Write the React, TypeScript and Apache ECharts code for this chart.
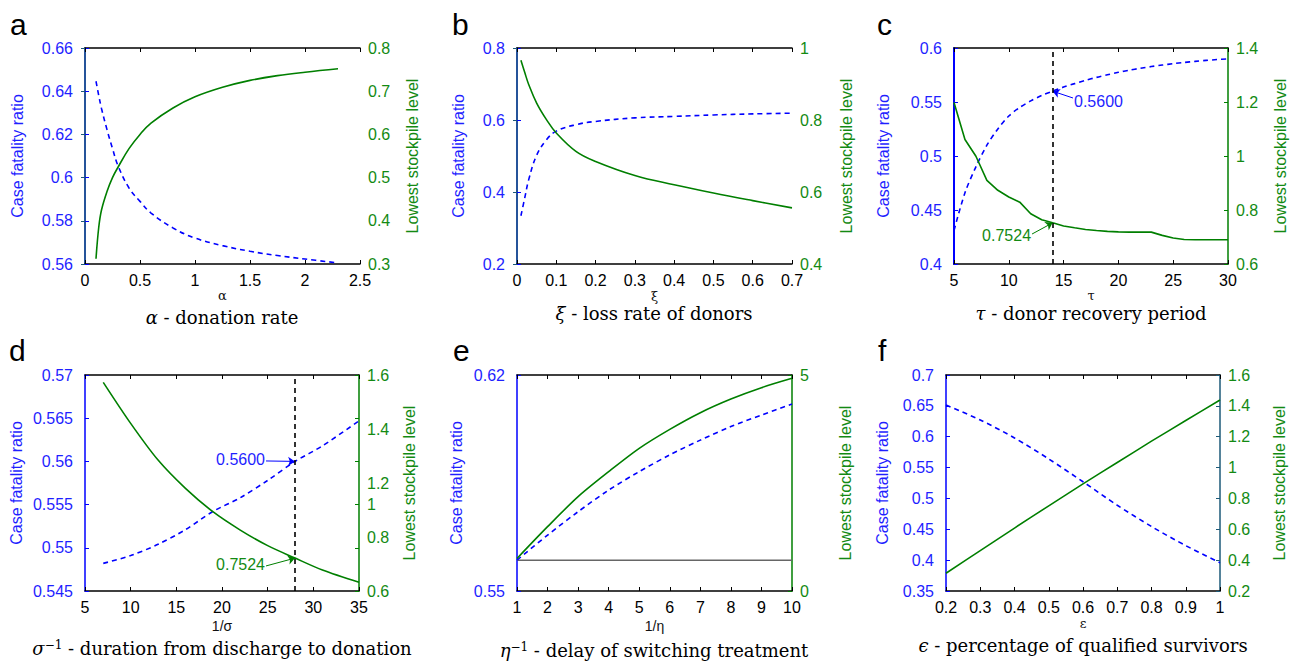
import React, { useEffect, useRef } from 'react';
import * as echarts from 'echarts';

// ---------------- data ----------------
// a: alpha - donation rate
const aAlpha = [0.1, 0.125, 0.15, 0.2, 0.25, 0.3, 0.4, 0.5, 0.6, 0.8, 1.0, 1.25, 1.5, 1.75, 2.0, 2.3];
const aCfr = [0.6446, 0.638, 0.632, 0.6222, 0.6135, 0.6055, 0.5952, 0.589, 0.5836, 0.5767, 0.572, 0.5685, 0.5659, 0.5639, 0.5623, 0.5605];
const aStock = [0.312, 0.385, 0.425, 0.468, 0.5, 0.524, 0.567, 0.6, 0.626, 0.661, 0.687, 0.709, 0.725, 0.736, 0.744, 0.752];

// b: xi - loss rate of donors
const bXi = [0.01, 0.02, 0.03, 0.05, 0.075, 0.1, 0.15, 0.2, 0.3, 0.4, 0.5, 0.6, 0.7];
const bCfr = [0.334, 0.385, 0.435, 0.502, 0.545, 0.569, 0.587, 0.596, 0.606, 0.61, 0.614, 0.617, 0.619];
const bStock = [0.966, 0.931, 0.898, 0.847, 0.801, 0.764, 0.713, 0.685, 0.646, 0.62, 0.597, 0.576, 0.556];

// c: tau - donor recovery period
const cTau = [5, 6, 7, 8, 9, 10, 11, 12, 13, 14, 15, 16, 17, 18, 19, 20, 21, 22, 23, 24, 25, 26, 27, 28, 29, 30];
const cCfr = [0.431, 0.466, 0.49, 0.51, 0.525, 0.537, 0.545, 0.551, 0.556, 0.56, 0.5638, 0.567, 0.57, 0.5728, 0.5752, 0.5775, 0.5795, 0.5812, 0.5828, 0.5842, 0.5855, 0.5866, 0.5876, 0.5885, 0.5893, 0.59];
const cStock = [1.198, 1.061, 0.999, 0.91, 0.873, 0.848, 0.829, 0.786, 0.764, 0.7524, 0.741, 0.734, 0.728, 0.724, 0.721, 0.719, 0.718, 0.718, 0.718, 0.706, 0.696, 0.691, 0.69, 0.69, 0.69, 0.69];
const cMarkX = 14;
const cMarkCfr = 0.56;
const cMarkStock = 0.7524;
const cCfrLabelAt = [15.86, 0.5537];
const cStockLabelAt = [12.12, 0.711];

// d: 1/sigma - duration from discharge to donation
const dSigmaInv = [7, 10, 13, 16, 19, 22, 25, 28, 31, 35];
const dCfr = [0.5482, 0.5491, 0.5504, 0.5521, 0.5542, 0.5558, 0.5578, 0.56, 0.5618, 0.5647];
const dStock = [1.566, 1.376, 1.206, 1.075, 0.967, 0.882, 0.81, 0.7524, 0.697, 0.64];
const dMarkX = 28;
const dMarkCfr = 0.56;
const dMarkStock = 0.7524;
const dCfrLabelAt = [24.82, 0.56005];
const dStockLabelAt = [24.82, 0.716];
const dRightLabelValues = [0.6, 0.85, 1.0, 1.1, 1.35, 1.6];
const dRightLabelTexts = ['0.6', '0.8', '1', '1.2', '1.4', '1.6'];
const dRightTicks = [0.6, 0.8, 1.0, 1.2, 1.4, 1.6];

// e: 1/eta - delay of switching treatment
const eEtaInv = [1, 2, 3, 4, 5, 6, 7, 8, 9, 10];
const eCfr = [0.56, 0.5681, 0.5757, 0.5827, 0.5887, 0.5941, 0.5989, 0.6033, 0.607, 0.6106];
const eStock = [0.7524, 1.489, 2.184, 2.762, 3.302, 3.742, 4.128, 4.444, 4.707, 4.923];
const eBaselineX = [1, 10];
const eBaselineCfr = [0.56, 0.56];
const eLeftTicks = [0.55, 0.62];

// f: epsilon - percentage of qualified survivors
const fEps = [0.2, 0.3, 0.4, 0.5, 0.6, 0.7, 0.8, 0.9, 1.0];
const fCfr = [0.6514, 0.6271, 0.598, 0.564, 0.527, 0.489, 0.4545, 0.4235, 0.3959];
const fStock = [0.315, 0.462, 0.608, 0.752, 0.894, 1.033, 1.171, 1.305, 1.438];

// ---------------- styling ----------------
const FONT = '"Liberation Sans", Arial, sans-serif';
const SERIF = '"DejaVu Serif", "Liberation Serif", serif';
const BLUE = '#0000ff';
const BLUE_TXT = '#1f1fff';
const GREEN = '#007f00';
const GREEN_TXT = '#138a13';
const TEAL = '#1d5a78';

const pairs = (xs: number[], ys: number[]) => xs.map((x, i) => [x, ys[i]]);

type AxisCfg = {
  min: number;
  max: number;
  interval?: number;
  gap: number;
  color?: string;
  width?: number;
  labelValues?: number[];
  labelTexts?: string[];
  tickValues?: number[];
};

type PanelCfg = {
  grid: { left: number; top: number; width: number; height: number };
  x: { min: number; max: number; interval: number; name: string; nameGap: number; nameSize: number; nameFont: string };
  left: AxisCfg;
  right: AxisCfg;
};

const panels: PanelCfg[] = [
  {
    grid: { left: 85, top: 48, width: 275, height: 216 },
    x: { min: 0, max: 2.5, interval: 0.5, name: 'α', nameGap: 24, nameSize: 13, nameFont: SERIF },
    left: { min: 0.56, max: 0.66, interval: 0.02, gap: 60 },
    right: { min: 0.3, max: 0.8, interval: 0.1, gap: 44, color: TEAL },
  },
  {
    grid: { left: 517, top: 48, width: 275, height: 216 },
    x: { min: 0, max: 0.7, interval: 0.1, name: 'ξ', nameGap: 26, nameSize: 13, nameFont: SERIF },
    left: { min: 0.2, max: 0.8, interval: 0.2, gap: 51 },
    right: { min: 0.4, max: 1, interval: 0.2, gap: 46, color: TEAL },
  },
  {
    grid: { left: 954, top: 48, width: 274, height: 216 },
    x: { min: 5, max: 30, interval: 5, name: 'τ', nameGap: 24, nameSize: 13, nameFont: SERIF },
    left: { min: 0.4, max: 0.6, interval: 0.05, gap: 63, width: 2 },
    right: { min: 0.6, max: 1.4, interval: 0.2, gap: 44, color: GREEN },
  },
  {
    grid: { left: 85, top: 375, width: 274, height: 216 },
    x: { min: 5, max: 35, interval: 5, name: '1/σ', nameGap: 28, nameSize: 14, nameFont: FONT },
    left: { min: 0.545, max: 0.57, interval: 0.005, gap: 61 },
    right: {
      min: 0.6, max: 1.6, interval: 0.2, gap: 42, color: GREEN,
      labelValues: dRightLabelValues, labelTexts: dRightLabelTexts, tickValues: dRightTicks,
    },
  },
  {
    grid: { left: 517, top: 375, width: 275, height: 216 },
    x: { min: 1, max: 10, interval: 1, name: '1/η', nameGap: 28, nameSize: 14, nameFont: FONT },
    left: { min: 0.55, max: 0.62, gap: 53, labelValues: eLeftTicks, tickValues: eLeftTicks },
    right: { min: 0, max: 5, interval: 5, gap: 45, color: GREEN },
  },
  {
    grid: { left: 946, top: 375, width: 274, height: 216 },
    x: { min: 0.2, max: 1, interval: 0.1, name: 'ε', nameGap: 26, nameSize: 13, nameFont: SERIF },
    left: { min: 0.35, max: 0.7, interval: 0.05, gap: 56 },
    right: { min: 0.2, max: 1.6, interval: 0.2, gap: 51, color: TEAL },
  },
];

const letters = [
  { t: 'a', x: 10, y: 24 },
  { t: 'b', x: 452, y: 24 },
  { t: 'c', x: 877, y: 24 },
  { t: 'd', x: 9, y: 350 },
  { t: 'e', x: 453, y: 350 },
  { t: 'f', x: 878, y: 350 },
];

const subtitles = [
  { text: '{m|α} - donation rate', x: 222, y: 317 },
  { text: '{m|ξ} - loss rate of donors', x: 654, y: 313 },
  { text: '{m|τ} - donor recovery period', x: 1091, y: 313 },
  { text: '{m|σ}{s|−1} - duration from discharge to donation', x: 222, y: 648 },
  { text: '{m|η}{s|−1} - delay of switching treatment', x: 654, y: 650 },
  { text: '{m|ϵ} - percentage of qualified survivors', x: 1083, y: 645 },
];

function yAxisFor(i: number, a: AxisCfg, side: 'left' | 'right') {
  const isLeft = side === 'left';
  const lineColor = isLeft ? BLUE : a.color || GREEN;
  const txt = isLeft ? BLUE_TXT : GREEN_TXT;
  const axis: any = {
    type: 'value',
    gridIndex: i,
    position: side,
    min: a.min,
    max: a.max,
    name: isLeft ? 'Case fatality ratio' : 'Lowest stockpile level',
    nameLocation: 'middle',
    nameRotate: 90,
    nameGap: a.gap,
    nameTextStyle: { color: txt, fontSize: 16, fontFamily: FONT },
    axisLine: { show: true, lineStyle: { color: lineColor, width: a.width || 1.5 } },
    axisTick: { show: true, inside: true, length: 4, lineStyle: { color: lineColor, width: 1 } },
    axisLabel: { color: txt, fontSize: 16, fontFamily: FONT, margin: isLeft ? 12 : 8 },
    splitLine: { show: false },
  };
  if (a.interval !== undefined) axis.interval = a.interval;
  if (a.labelValues) {
    axis.axisLabel.customValues = a.labelValues;
    if (a.labelTexts) {
      const vals = a.labelValues;
      const texts = a.labelTexts;
      axis.axisLabel.formatter = (v: number) => {
        const k = vals.findIndex((q) => Math.abs(q - v) < 1e-9);
        return k >= 0 ? texts[k] : String(v);
      };
    }
  }
  if (a.tickValues) axis.axisTick.customValues = a.tickValues;
  return axis;
}

function buildOption() {
  const grid: any[] = [];
  const xAxis: any[] = [];
  const yAxis: any[] = [];
  const series: any[] = [];

  panels.forEach((p, i) => {
    grid.push({ ...p.grid, containLabel: false, show: false });
    xAxis.push({
      type: 'value',
      gridIndex: i,
      position: 'bottom',
      min: p.x.min,
      max: p.x.max,
      interval: p.x.interval,
      name: p.x.name,
      nameLocation: 'middle',
      nameGap: p.x.nameGap,
      nameTextStyle: { color: '#111', fontSize: p.x.nameSize, fontFamily: p.x.nameFont },
      axisLine: { show: true, onZero: false, lineStyle: { color: '#000', width: 1.5 } },
      axisTick: { show: true, inside: true, length: 4, lineStyle: { color: '#000' } },
      axisLabel: { color: '#000', fontSize: 16, fontFamily: FONT, margin: 8 },
      splitLine: { show: false },
    });
    xAxis.push({
      type: 'value',
      gridIndex: i,
      position: 'top',
      min: p.x.min,
      max: p.x.max,
      interval: p.x.interval,
      axisLine: { show: true, onZero: false, lineStyle: { color: '#000', width: 1.5 } },
      axisTick: { show: true, inside: true, length: 4, lineStyle: { color: '#000' } },
      axisLabel: { show: false },
      splitLine: { show: false },
    });
    yAxis.push(yAxisFor(i, p.left, 'left'));
    yAxis.push(yAxisFor(i, p.right, 'right'));
  });

  const blueLine = (i: number, data: number[][], smooth: any, extra: any = {}) => ({
    type: 'line',
    xAxisIndex: 2 * i,
    yAxisIndex: 2 * i,
    data,
    showSymbol: false,
    symbol: 'none',
    smooth,
    silent: true,
    lineStyle: { color: BLUE, width: 1.6, type: [5, 4] },
    z: 3,
    ...extra,
  });
  const greenLine = (i: number, data: number[][], smooth: any, extra: any = {}) => ({
    type: 'line',
    xAxisIndex: 2 * i,
    yAxisIndex: 2 * i + 1,
    data,
    showSymbol: false,
    symbol: 'none',
    smooth,
    silent: true,
    lineStyle: { color: GREEN, width: 1.6 },
    z: 3,
    ...extra,
  });
  const arrowMark = (from: number[], to: number[], color: string, vline?: number) => {
    const data: any[] = [
      [
        { coord: from, symbol: 'none' },
        { coord: to, symbol: 'arrow', symbolSize: 7 },
      ],
    ];
    if (vline !== undefined) {
      data.push({ xAxis: vline, symbol: 'none', lineStyle: { color: '#000', type: [5, 4], width: 1.6 } });
    }
    return {
      silent: true,
      animation: false,
      symbol: ['none', 'none'],
      label: { show: false },
      lineStyle: { color, width: 1, type: 'solid' },
      emphasis: { disabled: true },
      data,
    };
  };
  const textPoint = (i: number, right: boolean, at: number[], text: string, color: string, pos: string, offset: number[]) => ({
    type: 'scatter',
    xAxisIndex: 2 * i,
    yAxisIndex: 2 * i + (right ? 1 : 0),
    data: [at],
    symbolSize: 0,
    silent: true,
    z: 5,
    itemStyle: { opacity: 1 },
    emphasis: { disabled: true },
    label: {
      show: true, formatter: text, position: pos, distance: 1, color, opacity: 1,
      textBorderWidth: 0, fontSize: 16, fontFamily: FONT, offset,
    },
  });

  // a
  series.push(blueLine(0, pairs(aAlpha, aCfr), 0.4));
  series.push(greenLine(0, pairs(aAlpha, aStock), 0.4));
  // b
  series.push(blueLine(1, pairs(bXi, bCfr), 0.4));
  series.push(greenLine(1, pairs(bXi, bStock), 0.4));
  // c
  series.push(blueLine(2, pairs(cTau, cCfr), 0.3, { markLine: arrowMark(cCfrLabelAt, [cMarkX, cMarkCfr], BLUE, cMarkX) }));
  series.push(greenLine(2, pairs(cTau, cStock), false, { markLine: arrowMark(cStockLabelAt, [cMarkX, cMarkStock], GREEN) }));
  series.push(textPoint(2, false, cCfrLabelAt, cMarkCfr.toFixed(4), BLUE_TXT, 'right', [0, 3]));
  series.push(textPoint(2, true, cStockLabelAt, cMarkStock.toFixed(4), GREEN_TXT, 'left', [0, 1]));
  // d
  series.push(blueLine(3, pairs(dSigmaInv, dCfr), 0.3, { markLine: arrowMark(dCfrLabelAt, [dMarkX, dMarkCfr], BLUE, dMarkX) }));
  series.push(greenLine(3, pairs(dSigmaInv, dStock), 0.3, { markLine: arrowMark(dStockLabelAt, [dMarkX, dMarkStock], GREEN) }));
  series.push(textPoint(3, false, dCfrLabelAt, dMarkCfr.toFixed(4), BLUE_TXT, 'left', [0, -1]));
  series.push(textPoint(3, true, dStockLabelAt, dMarkStock.toFixed(4), GREEN_TXT, 'left', [0, -1]));
  // e
  series.push({
    type: 'line',
    xAxisIndex: 8,
    yAxisIndex: 8,
    data: pairs(eBaselineX, eBaselineCfr),
    showSymbol: false,
    symbol: 'none',
    silent: true,
    lineStyle: { color: '#666', width: 1.5 },
    z: 2,
  });
  series.push(blueLine(4, pairs(eEtaInv, eCfr), 0.3));
  series.push(greenLine(4, pairs(eEtaInv, eStock), 0.3));
  // f
  series.push(blueLine(5, pairs(fEps, fCfr), 0.3));
  series.push(greenLine(5, pairs(fEps, fStock), 0.3));

  const graphic: any[] = [];
  letters.forEach((l) => {
    graphic.push({
      type: 'text',
      x: l.x,
      y: l.y,
      silent: true,
      style: { text: l.t, fill: '#000', fontSize: 30, fontFamily: FONT, align: 'left', verticalAlign: 'middle' },
    });
  });
  subtitles.forEach((s) => {
    graphic.push({
      type: 'text',
      x: s.x,
      y: s.y,
      silent: true,
      style: {
        text: s.text,
        fill: '#000',
        fontSize: 18,
        fontFamily: SERIF,
        align: 'center',
        verticalAlign: 'middle',
        rich: {
          m: { fontSize: 18, fontFamily: SERIF, fontStyle: 'italic', fill: '#000' },
          s: { fontSize: 12, fontFamily: SERIF, fill: '#000', verticalAlign: 'top', lineHeight: 12 },
        },
      },
    });
  });

  return {
    animation: false,
    backgroundColor: '#fff',
    grid,
    xAxis,
    yAxis,
    series,
    graphic,
  };
}

export default function App() {
  const ref = useRef<HTMLDivElement>(null);
  useEffect(() => {
    const chart = echarts.init(ref.current!, null, { renderer: 'svg' });
    chart.setOption(buildOption() as any);
    return () => chart.dispose();
  }, []);
  return <div ref={ref} style={{ position: 'absolute', left: 0, top: 0, width: 1296, height: 664 }} />;
}
